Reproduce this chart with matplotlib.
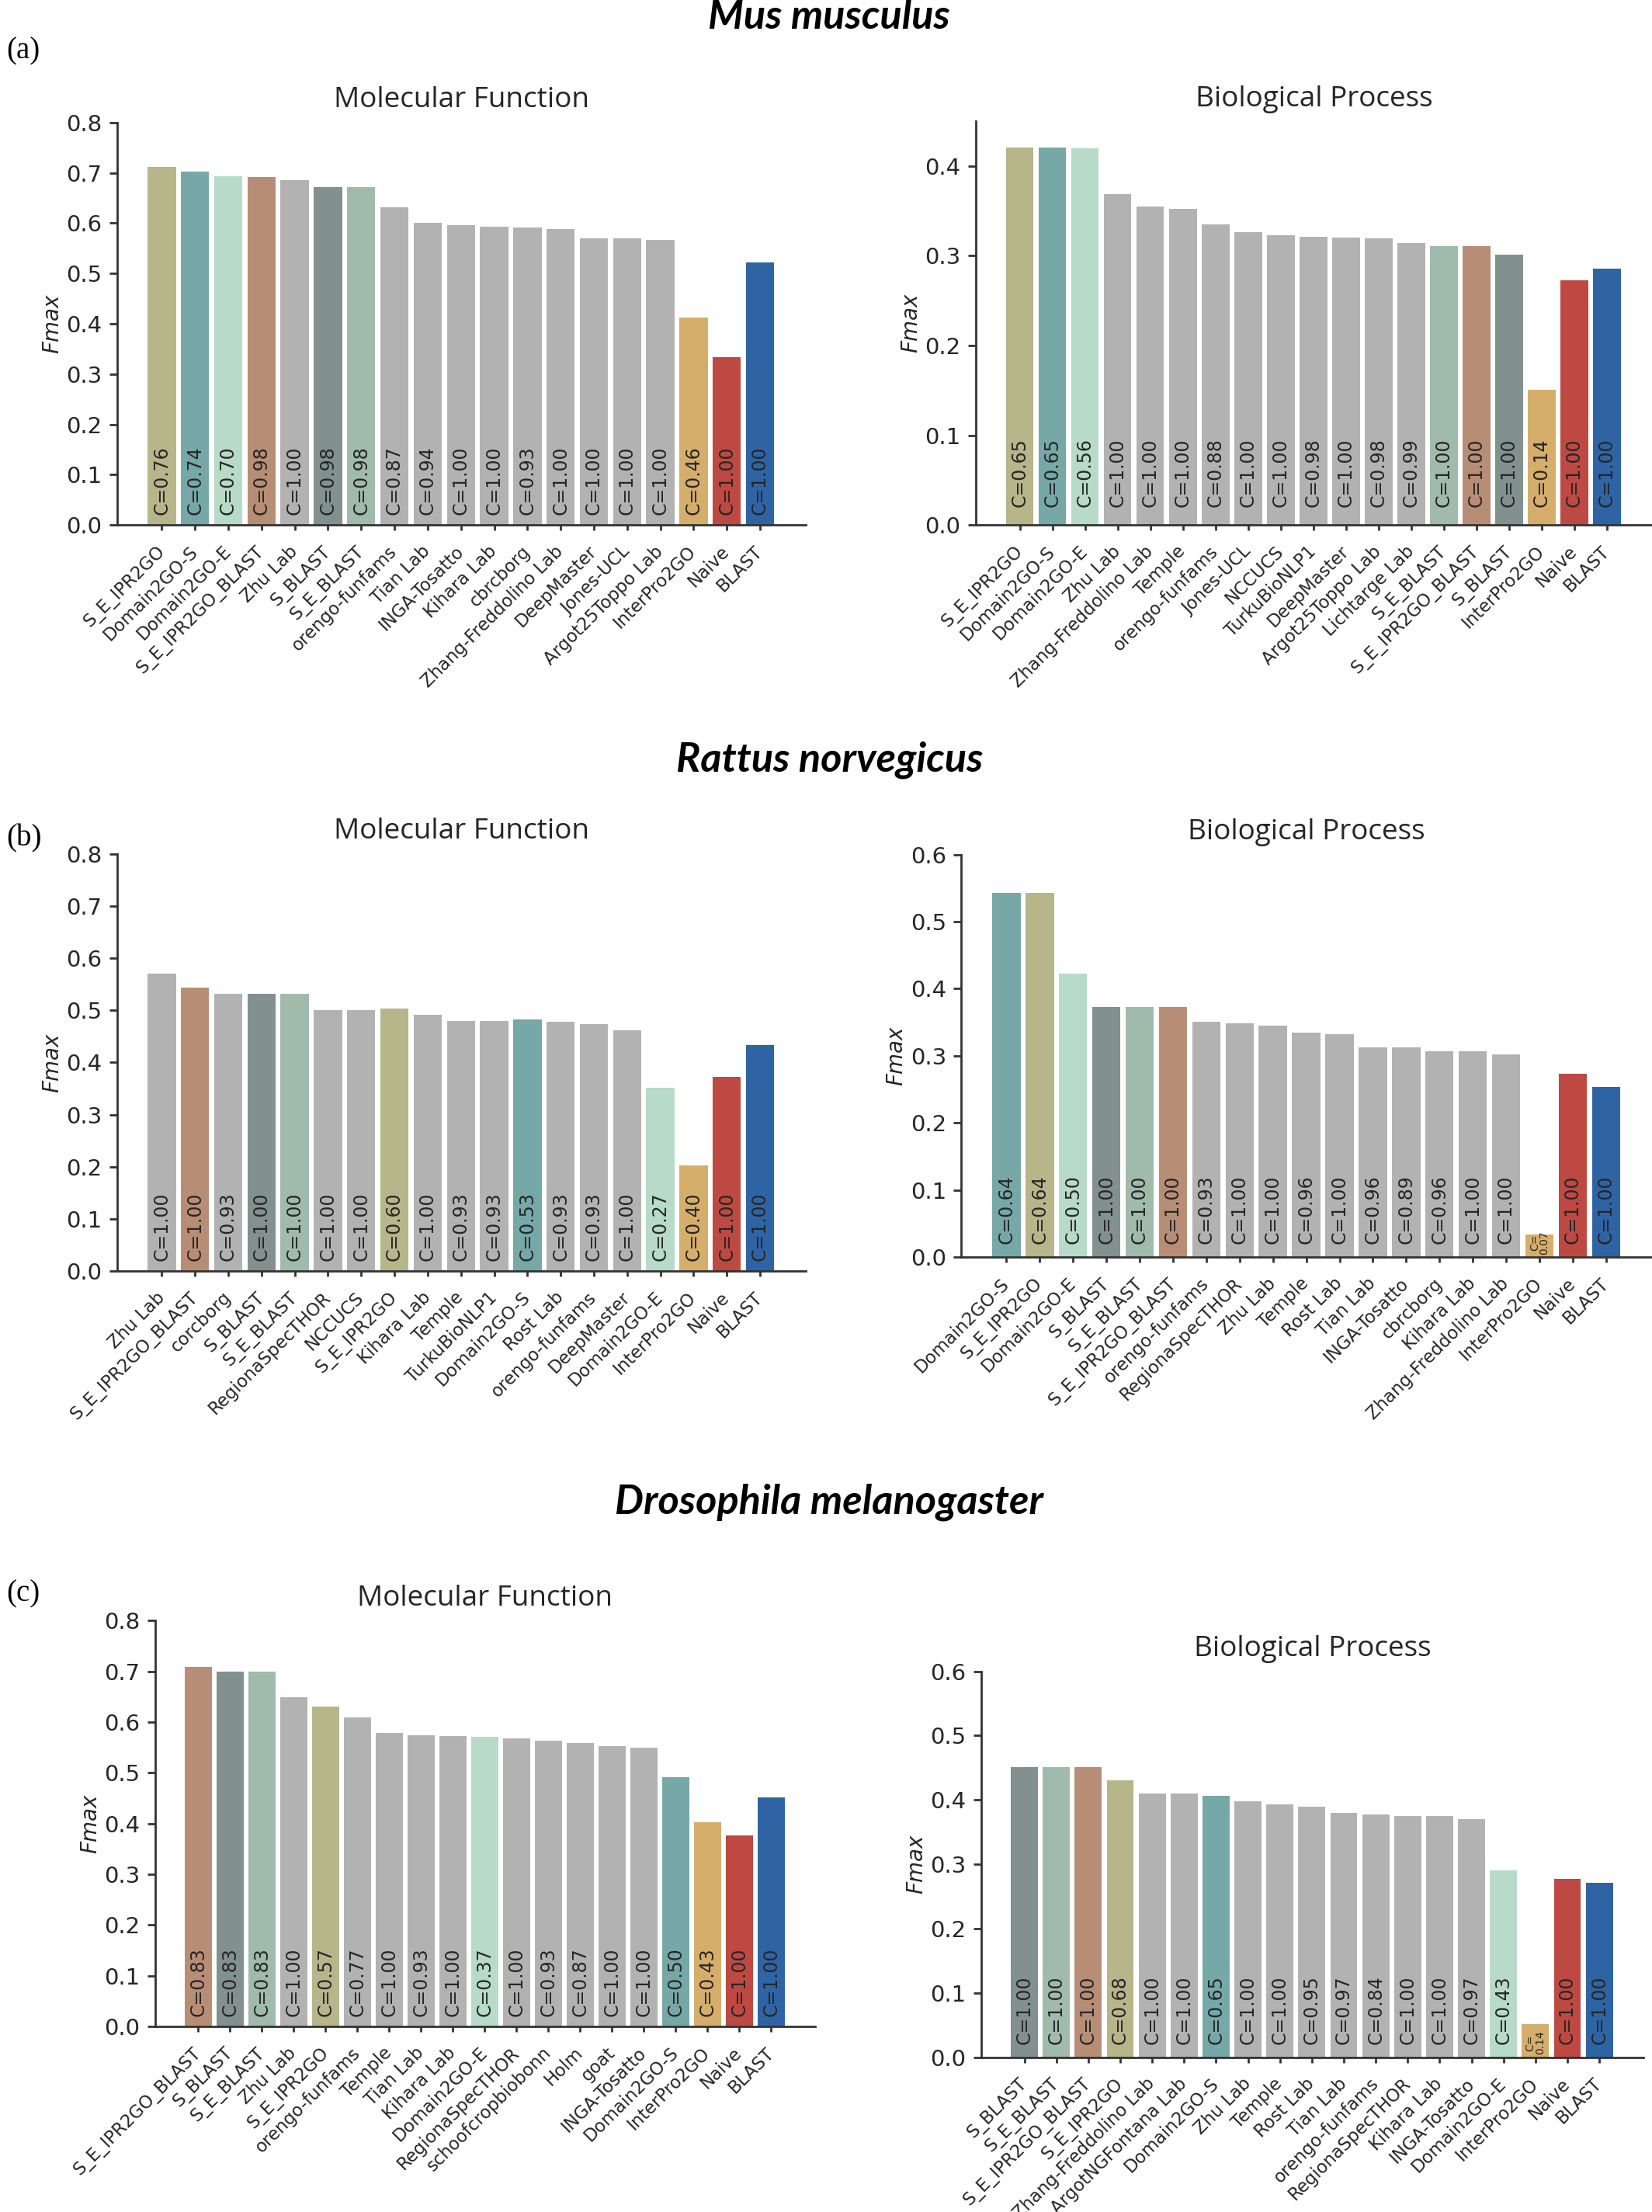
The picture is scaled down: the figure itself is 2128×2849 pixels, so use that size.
import numpy as np
import matplotlib.pyplot as plt

# ---- Mus musculus ----
mm_mf_names = ['S_E_IPR2GO', 'Domain2GO-S', 'Domain2GO-E', 'S_E_IPR2GO_BLAST', 'Zhu Lab',
               'S_BLAST', 'S_E_BLAST', 'orengo-funfams', 'Tian Lab', 'INGA-Tosatto', 'Kihara Lab',
               'cbrcborg', 'Zhang-Freddolino Lab', 'DeepMaster', 'Jones-UCL', 'Argot25Toppo Lab',
               'InterPro2GO', 'Naive', 'BLAST']
mm_mf_fmax = [0.711, 0.702, 0.693, 0.692, 0.686, 0.672, 0.672, 0.631, 0.601, 0.596, 0.593,
              0.591, 0.588, 0.570, 0.570, 0.567, 0.412, 0.333, 0.522]
mm_mf_cov = [0.76, 0.74, 0.70, 0.98, 1.00, 0.98, 0.98, 0.87, 0.94, 1.00, 1.00,
             0.93, 1.00, 1.00, 1.00, 1.00, 0.46, 1.00, 1.00]

mm_bp_names = ['S_E_IPR2GO', 'Domain2GO-S', 'Domain2GO-E', 'Zhu Lab', 'Zhang-Freddolino Lab',
               'Temple', 'orengo-funfams', 'Jones-UCL', 'NCCUCS', 'TurkuBioNLP1', 'DeepMaster',
               'Argot25Toppo Lab', 'Lichtarge Lab', 'S_E_BLAST', 'S_E_IPR2GO_BLAST', 'S_BLAST',
               'InterPro2GO', 'Naive', 'BLAST']
mm_bp_fmax = [0.421, 0.421, 0.420, 0.369, 0.355, 0.352, 0.335, 0.326, 0.323, 0.321, 0.320,
              0.319, 0.314, 0.311, 0.311, 0.301, 0.151, 0.273, 0.286]
mm_bp_cov = [0.65, 0.65, 0.56, 1.00, 1.00, 1.00, 0.88, 1.00, 1.00, 0.98, 1.00,
             0.98, 0.99, 1.00, 1.00, 1.00, 0.14, 1.00, 1.00]

# ---- Rattus norvegicus ----
rn_mf_names = ['Zhu Lab', 'S_E_IPR2GO_BLAST', 'corcborg', 'S_BLAST', 'S_E_BLAST',
               'RegionaSpecTHOR', 'NCCUCS', 'S_E_IPR2GO', 'Kihara Lab', 'Temple', 'TurkuBioNLP1',
               'Domain2GO-S', 'Rost Lab', 'orengo-funfams', 'DeepMaster', 'Domain2GO-E',
               'InterPro2GO', 'Naive', 'BLAST']
rn_mf_fmax = [0.570, 0.543, 0.531, 0.532, 0.532, 0.500, 0.500, 0.503, 0.491, 0.480, 0.480,
              0.483, 0.478, 0.474, 0.461, 0.352, 0.203, 0.373, 0.433]
rn_mf_cov = [1.00, 1.00, 0.93, 1.00, 1.00, 1.00, 1.00, 0.60, 1.00, 0.93, 0.93,
             0.53, 0.93, 0.93, 1.00, 0.27, 0.40, 1.00, 1.00]

rn_bp_names = ['Domain2GO-S', 'S_E_IPR2GO', 'Domain2GO-E', 'S_BLAST', 'S_E_BLAST',
               'S_E_IPR2GO_BLAST', 'orengo-funfams', 'RegionaSpecTHOR', 'Zhu Lab', 'Temple',
               'Rost Lab', 'Tian Lab', 'INGA-Tosatto', 'cbrcborg', 'Kihara Lab',
               'Zhang-Freddolino Lab', 'InterPro2GO', 'Naive', 'BLAST']
rn_bp_fmax = [0.543, 0.543, 0.423, 0.373, 0.373, 0.373, 0.351, 0.348, 0.345, 0.334,
              0.332, 0.312, 0.312, 0.307, 0.307, 0.302, 0.034, 0.273, 0.253]
rn_bp_cov = [0.64, 0.64, 0.50, 1.00, 1.00, 1.00, 0.93, 1.00, 1.00, 0.96,
             1.00, 0.96, 0.89, 0.96, 1.00, 1.00, 0.07, 1.00, 1.00]

# ---- Drosophila melanogaster ----
dm_mf_names = ['S_E_IPR2GO_BLAST', 'S_BLAST', 'S_E_BLAST', 'Zhu Lab', 'S_E_IPR2GO',
               'orengo-funfams', 'Temple', 'Tian Lab', 'Kihara Lab', 'Domain2GO-E',
               'RegionaSpecTHOR', 'schoofcropbiobonn', 'Holm', 'goat', 'INGA-Tosatto',
               'Domain2GO-S', 'InterPro2GO', 'Naive', 'BLAST']
dm_mf_fmax = [0.709, 0.700, 0.700, 0.649, 0.631, 0.609, 0.578, 0.574, 0.572, 0.571,
              0.568, 0.563, 0.559, 0.553, 0.549, 0.491, 0.402, 0.377, 0.451]
dm_mf_cov = [0.83, 0.83, 0.83, 1.00, 0.57, 0.77, 1.00, 0.93, 1.00, 0.37,
             1.00, 0.93, 0.87, 1.00, 1.00, 0.50, 0.43, 1.00, 1.00]

dm_bp_names = ['S_BLAST', 'S_E_BLAST', 'S_E_IPR2GO_BLAST', 'S_E_IPR2GO', 'Zhang-Freddolino Lab',
               'ArgotNGFontana Lab', 'Domain2GO-S', 'Zhu Lab', 'Temple', 'Rost Lab', 'Tian Lab',
               'orengo-funfams', 'RegionaSpecTHOR', 'Kihara Lab', 'INGA-Tosatto', 'Domain2GO-E',
               'InterPro2GO', 'Naive', 'BLAST']
dm_bp_fmax = [0.451, 0.451, 0.451, 0.431, 0.410, 0.410, 0.406, 0.398, 0.393, 0.390, 0.380,
              0.377, 0.375, 0.375, 0.370, 0.291, 0.051, 0.277, 0.271]
dm_bp_cov = [1.00, 1.00, 1.00, 0.68, 1.00, 1.00, 0.65, 1.00, 1.00, 0.95, 0.97,
             0.84, 1.00, 1.00, 0.97, 0.43, 0.14, 1.00, 1.00]

# colour per method, everything else grey
farben = {'S_E_IPR2GO': '#b7b58a', 'Domain2GO-S': '#76a8a7', 'Domain2GO-E': '#b7dbc8',
          'S_E_IPR2GO_BLAST': '#b78e75', 'S_BLAST': '#82918e', 'S_E_BLAST': '#a0baab',
          'InterPro2GO': '#d5ae6b', 'Naive': '#bd4942', 'BLAST': '#2f64a4'}
grau = '#b2b2b2'

plt.rcParams['font.family'] = 'DejaVu Sans'
fig = plt.figure(figsize=(10.64, 14.245), dpi=200)


def panel(pos, names, fmax, cov, titel, ytop, yticks):
    ax = fig.add_axes(pos)
    x = np.arange(len(names))
    cols = [farben.get(n, grau) for n in names]
    ax.bar(x, fmax, width=0.85, color=cols)
    for xi, f, c in zip(x, fmax, cov):
        if f < 0.1:
            # bar too short, squeeze label into two lines
            ax.text(xi, 0.004, 'C=\n%.2f' % c, rotation=90, ha='center', va='bottom',
                    fontsize=5, color='#262626', linespacing=0.85)
        else:
            ax.text(xi, 0.02, 'C=%.2f' % c, rotation=90, ha='center', va='bottom',
                    fontsize=8.5, color='#262626')
    ax.set_xticks(x)
    ax.set_xticklabels(names, rotation=45, ha='right', va='center', rotation_mode='anchor',
                       fontsize=8.2, color='#262626')
    ax.set_xlim(-1.35, 19.38)
    ax.set_ylim(0, ytop)
    ax.set_yticks(yticks)
    ax.set_yticklabels(['%.1f' % t for t in yticks], fontsize=10.5, color='#262626')
    ax.set_ylabel('Fmax', style='italic', fontsize=10, color='#262626', labelpad=1.5)
    ax.set_title(titel, fontsize=13.3, family='Open Sans', color='#262626', pad=7)
    ax.spines['top'].set_visible(False)
    ax.spines['right'].set_visible(False)
    for s in ['left', 'bottom']:
        ax.spines[s].set_color('#333333')
        ax.spines[s].set_linewidth(1.0)
    ax.tick_params(axis='x', length=2.5, width=1.0, color='#333333', pad=8.5)
    ax.tick_params(axis='y', length=3.5, width=1.0, color='#333333')
    return ax


mf_ticks = np.arange(0, 0.81, 0.1)
panel([0.0708, 0.7627, 0.417, 0.1819], mm_mf_names, mm_mf_fmax, mm_mf_cov,
      'Molecular Function', 0.8, mf_ticks)
panel([0.5906, 0.7627, 0.4094, 0.1825], mm_bp_names, mm_bp_fmax, mm_bp_cov,
      'Biological Process', 0.45, np.arange(0, 0.41, 0.1))
panel([0.0708, 0.4254, 0.417, 0.1886], rn_mf_names, rn_mf_fmax, rn_mf_cov,
      'Molecular Function', 0.8, mf_ticks)
panel([0.582, 0.4317, 0.418, 0.182], rn_bp_names, rn_bp_fmax, rn_bp_cov,
      'Biological Process', 0.6, np.arange(0, 0.61, 0.1))
panel([0.094, 0.0839, 0.3994, 0.1835], dm_mf_names, dm_mf_fmax, dm_mf_cov,
      'Molecular Function', 0.8, mf_ticks)
panel([0.594, 0.06995, 0.4008, 0.1745], dm_bp_names, dm_bp_fmax, dm_bp_cov,
      'Biological Process', 0.6, np.arange(0, 0.61, 0.1))

# species headings and panel letters
for txt, y in [('Mus musculus', 1 - 22 / 2849), ('Rattus norvegicus', 1 - 979 / 2849),
               ('Drosophila melanogaster', 1 - 1935 / 2849)]:
    fig.text(0.502, y, txt, ha='center', va='center', fontsize=18.8, family='Lato',
             weight='bold', style='italic')
for txt, y in [('(a)', 1 - 66 / 2849), ('(b)', 1 - 1080 / 2849), ('(c)', 1 - 2053 / 2849)]:
    fig.text(0.004, y, txt, ha='left', va='center', fontsize=14, family='Liberation Serif')

plt.savefig('out.png', dpi=200)
